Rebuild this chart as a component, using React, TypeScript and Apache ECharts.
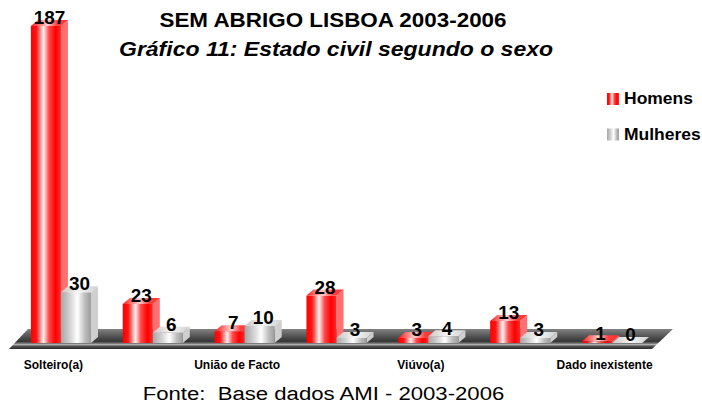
import React, { useEffect, useRef } from "react";
import * as echarts from "echarts";

const categories = [
  "Solteiro(a)",
  "Casado(a)",
  "União de Facto",
  "Divorciado(a)",
  "Viúvo(a)",
  "Separado(a)",
  "Dado inexistente",
];
const homens = [187, 23, 7, 28, 3, 13, 1];
const mulheres = [30, 6, 10, 3, 4, 3, 0];
const seriesNames = ["Homens", "Mulheres"];
const titleText = "SEM ABRIGO LISBOA 2003-2006";
const subtitleText = "Gráfico 11: Estado civil segundo o sexo";
const sourceText = "Fonte:  Base dados AMI - 2003-2006";

const FONT = 'Arial, "Liberation Sans", sans-serif';

const hGrad = (stops: [number, string][]) =>
  new echarts.graphic.LinearGradient(
    0,
    0,
    1,
    0,
    stops.map(([offset, color]) => ({ offset, color }))
  );

const redFront = () =>
  hGrad([
    [0, "#ff0000"],
    [0.18, "#ff1414"],
    [0.42, "#fff2f2"],
    [0.6, "#ff4a4a"],
    [0.82, "#ff0000"],
    [1, "#ff2a2a"],
  ]);
const redTop = () =>
  hGrad([
    [0, "#ff1a1a"],
    [0.45, "#ffd0d0"],
    [0.7, "#ff4040"],
    [1, "#ff3030"],
  ]);
const greyFront = () =>
  hGrad([
    [0, "#a6a6a6"],
    [0.3, "#d2d2d2"],
    [0.55, "#ffffff"],
    [0.8, "#bdbdbd"],
    [1, "#9c9c9c"],
  ]);
const greyTop = () =>
  hGrad([
    [0, "#c8c8c8"],
    [0.5, "#f4f4f4"],
    [1, "#d0d0d0"],
  ]);

function make3DBar(
  side: 0 | 1,
  front: () => any,
  top: () => any,
  sideColor: string
) {
  return (params: any, api: any) => {
    const idx = api.value(0);
    const v = api.value(1);
    const base = api.coord([idx, 0]);
    const tp = api.coord([idx, v]);
    const band = api.size([1, 0])[0];
    const w = band * 0.327;
    const dx = 7;
    const dy = 6;
    const x0 = side === 0 ? base[0] - w : base[0];
    const x1 = x0 + w;
    const yb = base[1];
    const yt = tp[1];
    return {
      type: "group",
      children: [
        {
          type: "polygon",
          shape: {
            points: [
              [x1, yt],
              [x1 + dx, yt - dy],
              [x1 + dx, yb - dy],
              [x1, yb],
            ],
          },
          style: { fill: sideColor },
        },
        {
          type: "rect",
          shape: { x: x0, y: yt, width: w, height: Math.max(yb - yt, 0) },
          style: { fill: front() },
        },
        {
          type: "polygon",
          shape: {
            points: [
              [x0, yt],
              [x0 + dx, yt - dy],
              [x1 + dx, yt - dy],
              [x1, yt],
            ],
          },
          style: { fill: top() },
        },
        {
          type: "text",
          z2: 100,
          x: x0 + w / 2 + 3.5,
          y: yt - 8,
          scaleX: 1.05,
          style: {
            text: String(v),
            font: `bold 18px ${FONT}`,
            fill: "#000",
            align: "center",
            verticalAlign: "middle",
          },
        },
      ],
    };
  };
}

export default function App() {
  const ref = useRef<HTMLDivElement>(null);
  useEffect(() => {
    if (!ref.current) return;
    const chart = echarts.init(ref.current, undefined, { renderer: "svg" });
    const option: any = {
      animation: false,
      backgroundColor: "#ffffff",
      grid: { left: 15, right: 44, top: 4, bottom: 62, containLabel: false },
      xAxis: {
        type: "category",
        data: categories,
        axisLine: { show: false },
        axisTick: { show: false },
        splitLine: { show: false },
        axisLabel: {
          interval: 1,
          color: "#000",
          fontWeight: "bold",
          fontSize: 12,
          fontFamily: FONT,
          margin: 16,
          padding: [0, 15, 0, 0],
        },
      },
      yAxis: { type: "value", min: 0, max: 200, show: false },
      graphic: [
        {
          type: "polygon",
          z: 0,
          shape: {
            points: [
              [9, 349],
              [28, 329],
              [673, 329],
              [652, 349],
            ],
          },
          style: {
            fill: new echarts.graphic.LinearGradient(0, 0, 0, 1, [
              { offset: 0, color: "#828282" },
              { offset: 0.35, color: "#555555" },
              { offset: 0.62, color: "#363636" },
              { offset: 0.72, color: "#777777" },
              { offset: 0.78, color: "#b4b4b4" },
              { offset: 0.86, color: "#505050" },
              { offset: 1, color: "#2e2e2e" },
            ]),
          },
        },
        {
          type: "text",
          x: 333,
          y: 20,
          scaleX: 1.15,
          style: {
            text: titleText,
            font: `bold 19.5px ${FONT}`,
            fill: "#000",
            align: "center",
            verticalAlign: "middle",
          },
        },
        {
          type: "text",
          x: 336,
          y: 50,
          scaleX: 1.18,
          style: {
            text: subtitleText,
            font: `italic bold 19.5px ${FONT}`,
            fill: "#000",
            align: "center",
            verticalAlign: "middle",
          },
        },
        {
          type: "text",
          x: 323.5,
          y: 394,
          scaleX: 1.23,
          style: {
            text: sourceText,
            font: `18px ${FONT}`,
            fill: "#000",
            align: "center",
            verticalAlign: "middle",
          },
        },
        {
          type: "rect",
          shape: { x: 607, y: 93, width: 12, height: 12 },
          style: { fill: redFront() },
        },
        {
          type: "text",
          x: 624,
          y: 99,
          scaleX: 1.06,
          style: {
            text: seriesNames[0],
            font: `bold 16.5px ${FONT}`,
            fill: "#000",
            align: "left",
            verticalAlign: "middle",
          },
        },
        {
          type: "rect",
          shape: { x: 607, y: 128.5, width: 12, height: 12 },
          style: { fill: greyFront() },
        },
        {
          type: "text",
          x: 624,
          y: 134.5,
          scaleX: 1.06,
          style: {
            text: seriesNames[1],
            font: `bold 16.5px ${FONT}`,
            fill: "#000",
            align: "left",
            verticalAlign: "middle",
          },
        },
      ],
      series: [
        {
          name: seriesNames[0],
          type: "custom",
          z: 2,
          encode: { x: 0, y: 1 },
          data: homens.map((v, i) => [i, v]),
          renderItem: make3DBar(0, redFront, redTop, "#ff7070"),
        },
        {
          name: seriesNames[1],
          type: "custom",
          z: 2,
          encode: { x: 0, y: 1 },
          data: mulheres.map((v, i) => [i, v]),
          renderItem: make3DBar(1, greyFront, greyTop, "#cfcfcf"),
        },
      ],
    };
    chart.setOption(option);
    return () => chart.dispose();
  }, []);
  return (
    <div
      ref={ref}
      style={{ position: "absolute", left: 0, top: 0, width: 702, height: 405 }}
    />
  );
}
